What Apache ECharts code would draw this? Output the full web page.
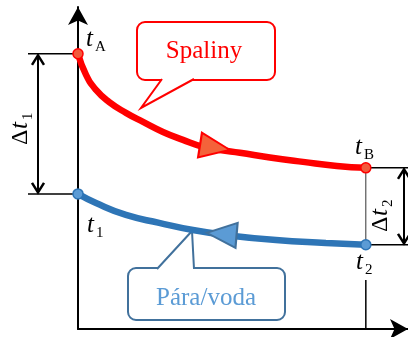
<!DOCTYPE html>
<html>
<head>
<meta charset="utf-8">
<script src="https://cdn.jsdelivr.net/npm/echarts@6/dist/echarts.min.js"></script>
<style>
  html, body {margin: 0; padding: 0; background: #fff;}
  #main {width: 408px; height: 337px;}
</style>
</head>
<body>
<div id="main"></div>
<script>
// průběh teplot (x = délka výměníku, y = teplota)
var redX = [0, 2.5, 5.6, 9.6, 14.9, 20.2, 26.4, 32.6, 38.8, 44.1, 50.3, 59.6, 69.9, 80.4, 89.4];
var redY = [87.6, 80.9, 76.1, 72.3, 68.8, 65.9, 62.7, 60.2, 58.0, 57.0, 56.1, 54.6, 53.2, 51.9, 51.3];
var blueX = [0, 5.6, 14.9, 25.2, 35.7, 46.0, 61.5, 77.0, 89.4];
var blueY = [43.0, 40.1, 36.3, 33.8, 31.5, 29.9, 28.3, 27.4, 26.8];
// šipky směru proudění
var redArrow = [42.5, 57.8];
var blueArrow = [44.6, 30.2];

var SERIF = "'Liberation Serif', 'Times New Roman', serif";
var RED = '#ff0000', BLUE = '#2e75b6', LBLUE = '#5b9bd5', DBLUE = '#41719c';

function pairs(xs, ys) {
  var out = [];
  for (var i = 0; i < xs.length; i++) out.push([xs[i], ys[i]]);
  return out;
}
function ends(xs, ys) {
  var n = xs.length - 1;
  return [[xs[0], ys[0]], [xs[n], ys[n]]];
}

var myChart = echarts.init(document.getElementById('main'));

var axisCommon = {
  type: 'value', min: 0, max: 102.5,
  axisLine: {show: true, symbol: ['none', 'arrow'], symbolSize: [15, 18], lineStyle: {color: '#000', width: 2}},
  axisTick: {show: false},
  axisLabel: {show: false},
  splitLine: {show: false}
};

var option = {
  animation: false,
  grid: {left: 78, top: 7, width: 330, height: 322},
  xAxis: axisCommon,
  yAxis: axisCommon,
  series: [
    {
      type: 'line', smooth: 0.5, symbol: 'none', clip: false, z: 3,
      lineStyle: {color: RED, width: 6.5},
      data: pairs(redX, redY)
    },
    {
      type: 'line', smooth: 0.5, symbol: 'none', clip: false, z: 3,
      lineStyle: {color: BLUE, width: 6.5},
      data: pairs(blueX, blueY)
    },
    {
      type: 'scatter', symbol: 'triangle', symbolSize: [25, 30], symbolRotate: -99, z: 4,
      itemStyle: {color: '#f4623a', borderColor: RED, borderWidth: 2, opacity: 1},
      data: [redArrow]
    },
    {
      type: 'scatter', symbol: 'triangle', symbolSize: [25, 30], symbolRotate: 85, z: 4,
      itemStyle: {color: LBLUE, borderColor: DBLUE, borderWidth: 2, opacity: 1},
      data: [blueArrow]
    },
    {
      type: 'scatter', symbolSize: 10, z: 5,
      itemStyle: {color: '#f25a3c', borderColor: RED, borderWidth: 1.5, opacity: 1},
      data: ends(redX, redY)
    },
    {
      type: 'scatter', symbolSize: 10, z: 5,
      itemStyle: {color: LBLUE, borderColor: BLUE, borderWidth: 1.5, opacity: 1},
      data: ends(blueX, blueY)
    }
  ]
};
myChart.setOption(option);

// kóty a popisky podle skutečné polohy bodů
function toPx(p) { return myChart.convertToPixel({gridIndex: 0}, p); }
var nR = redX.length - 1, nB = blueX.length - 1;
var pA = toPx([redX[0], redY[0]]);
var pB = toPx([redX[nR], redY[nR]]);
var p1 = toPx([blueX[0], blueY[0]]);
var p2 = toPx([blueX[nB], blueY[nB]]);

function hline(x1, x2, y, w, c) {
  return {type: 'line', shape: {x1: x1, y1: y, x2: x2, y2: y}, style: {stroke: c || '#000', lineWidth: w || 1.5}, z: 2};
}
function vline(x, y1, y2, w, c) {
  return {type: 'line', shape: {x1: x, y1: y1, x2: x, y2: y2}, style: {stroke: c || '#000', lineWidth: w || 1.5}, z: 2};
}
function dimArrow(x, y1, y2) {
  var s = {stroke: '#000', lineWidth: 2.5, fill: null};
  return [
    vline(x, y1 + 1, y2 - 1, 2),
    {type: 'polyline', shape: {points: [[x - 6, y1 + 11], [x, y1 + 1.5], [x + 6, y1 + 11]]}, style: s, z: 2},
    {type: 'polyline', shape: {points: [[x - 6, y2 - 11], [x, y2 - 1.5], [x + 6, y2 - 11]]}, style: s, z: 2}
  ];
}
function txt(x, y, s, size, italic, color, align) {
  return {type: 'text', x: x, y: y, style: {
    text: s, fontSize: size, fontFamily: SERIF, fontStyle: italic ? 'italic' : 'normal',
    fill: color || '#000', textAlign: align || 'left', textVerticalAlign: 'bottom'
  }};
}
// t s indexem; x = levý okraj, y = účaří
function sym(x, y, sub, rot, pre) {
  var kids = [], off = 0;
  if (pre) {
    kids.push(txt(0, 0, pre, 24));
    off = 16;
  }
  kids.push(txt(off, 0, 't', 25, true));
  kids.push(txt(off + 9, 3, sub, 15));
  return {type: 'group', x: x, y: y + 5, rotation: rot || 0, children: kids, z: 6};
}

// bublina: zaoblený obdélník + ocásek
function callout(x, y, w, h, tail, stroke) {
  return [
    {type: 'rect', shape: {x: x, y: y, width: w, height: h, r: 8}, style: {fill: '#fff', stroke: stroke, lineWidth: 2}, z: 1},
    {type: 'polygon', shape: {points: tail}, style: {fill: '#fff', stroke: null}, z: 1},
    {type: 'polyline', shape: {points: tail}, style: {fill: null, stroke: stroke, lineWidth: 2}, z: 1}
  ];
}

var g = [
  hline(28, pA[0], pA[1]),
  hline(28, p1[0], p1[1]),
  hline(pB[0], 408, pB[1]),
  hline(p2[0], 408, p2[1]),
  vline(pB[0], pB[1], p2[1], 1, '#333'),
  vline(p2[0], 280, 329, 1.5)
].concat(
  dimArrow(38, pA[1], p1[1]),
  dimArrow(404, pB[1], p2[1]),
  callout(137, 22, 138, 58, [[162, 79], [141, 108], [194, 79]], RED),
  callout(128, 268, 157, 52, [[157, 269], [192, 231], [194, 269]], DBLUE)
);

var spal = txt(204, 64, 'Spaliny', 25, false, RED, 'center'); spal.z = 6;
var para = txt(206, 311, 'Pára/voda', 25, false, LBLUE, 'center'); para.z = 6;
g.push(
  spal, para,
  sym(86, pA[1] - 7, 'A'),
  sym(87, p1[1] + 39, '1'),
  sym(355, pB[1] - 13, 'B'),
  sym(356, p2[1] + 25, '2'),
  sym(33, 140, '1', Math.PI / 2, 'Δ'),
  sym(393, 227, '2', Math.PI / 2, 'Δ')
);

myChart.setOption({graphic: g});
</script>
</body>
</html>
